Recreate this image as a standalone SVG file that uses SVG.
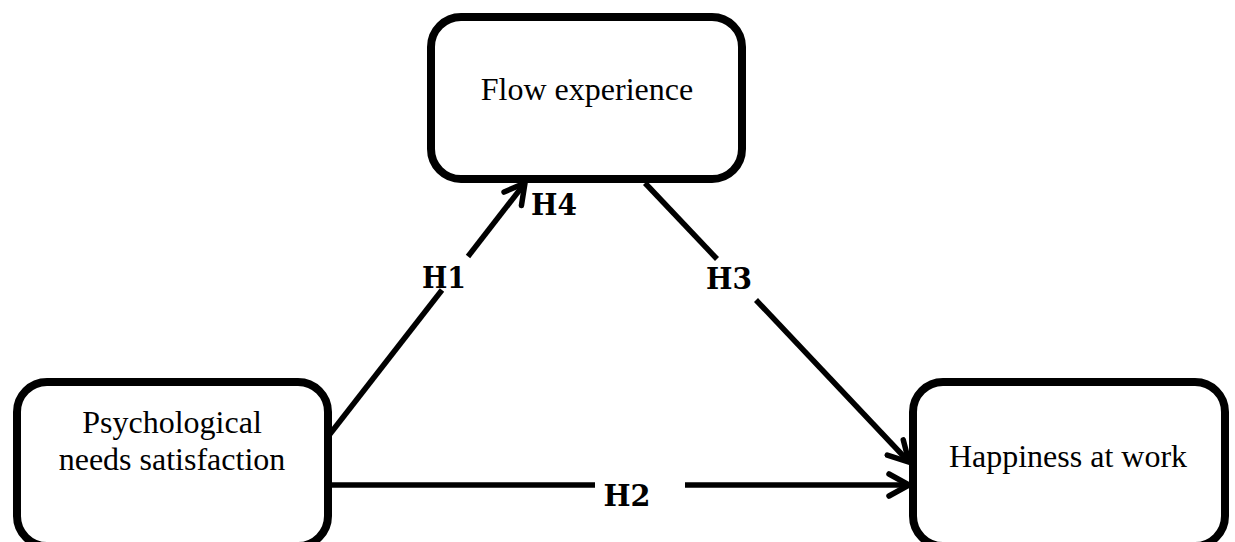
<svg xmlns="http://www.w3.org/2000/svg" width="1235" height="542" viewBox="0 0 1235 542">
<style>
.box{fill:#fff;stroke:#000;stroke-width:8}
.lbl{font-family:"Liberation Serif","Times New Roman",serif;font-size:32px;fill:#000;text-anchor:middle}
.h{font-family:"DejaVu Serif",serif;font-weight:bold;font-size:29px;fill:#000;text-anchor:middle}
.edge{stroke:#000;stroke-width:5.5;fill:none;stroke-linecap:butt}
</style>
<defs>
<marker id="arr" markerUnits="userSpaceOnUse" viewBox="-24 -14 28 28" refX="0" refY="0" markerWidth="28" markerHeight="28" orient="auto">
<path d="M-20,-11 L0,0 L-20,11" fill="none" stroke="#000" stroke-width="5.5" stroke-linecap="round" stroke-linejoin="miter"/>
</marker>
</defs>
<rect width="1235" height="542" fill="#fff"/>
<g id="connectors">
<line class="edge" x1="330" y1="434" x2="442" y2="290"/>
<line class="edge" x1="468" y1="256.5" x2="525" y2="183" marker-end="url(#arr)"/>
<line class="edge" x1="645" y1="183" x2="717" y2="259"/>
<line class="edge" x1="756" y1="300" x2="909" y2="462" marker-end="url(#arr)"/>
<line class="edge" x1="332" y1="485" x2="595" y2="485"/>
<line class="edge" x1="685" y1="485" x2="909" y2="485" marker-end="url(#arr)"/>
</g>
<g id="node-flow">
<rect class="box" x="431" y="17" width="311" height="162" rx="30"/>
<text class="lbl" x="587" y="100">Flow experience</text>
</g>
<g id="node-pns">
<rect class="box" x="17" y="382" width="311" height="164" rx="30"/>
<text class="lbl" x="172" y="433">Psychological</text>
<text class="lbl" x="172" y="470">needs satisfaction</text>
</g>
<g id="node-happy">
<rect class="box" x="913" y="382" width="312" height="164" rx="30"/>
<text class="lbl" x="1068" y="467">Happiness at work</text>
</g>
<g id="labels">
<text class="h" x="444" y="288" textLength="44" lengthAdjust="spacingAndGlyphs">H1</text>
<text class="h" x="627" y="506" textLength="47" lengthAdjust="spacingAndGlyphs">H2</text>
<text class="h" x="729" y="289" textLength="46" lengthAdjust="spacingAndGlyphs">H3</text>
<text class="h" x="554" y="215" textLength="46" lengthAdjust="spacingAndGlyphs">H4</text>
</g>
</svg>
